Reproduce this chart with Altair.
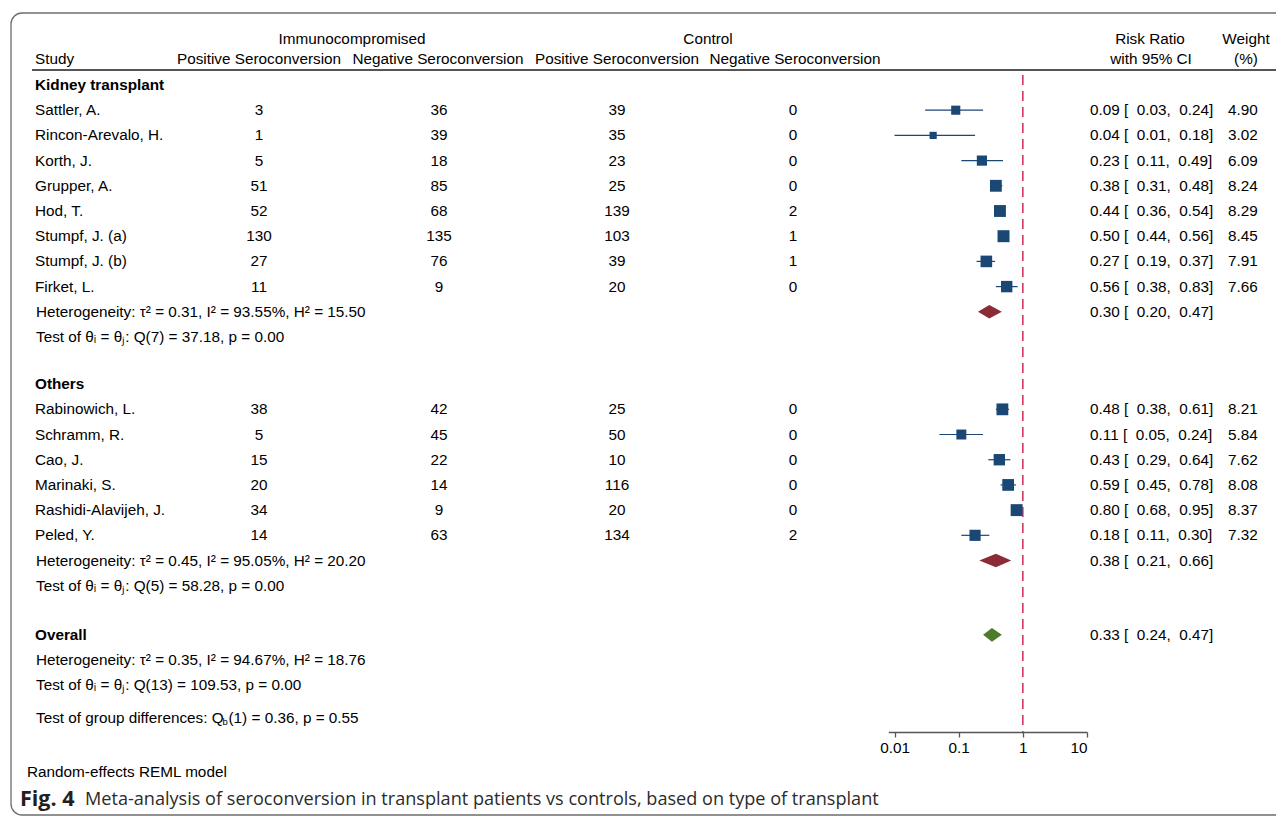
import altair as alt
import pandas as pd

# ---------------- data ----------------
group1_name = "Kidney transplant"
group1_studies = ["Sattler, A.", "Rincon-Arevalo, H.", "Korth, J.", "Grupper, A.",
                  "Hod, T.", "Stumpf, J. (a)", "Stumpf, J. (b)", "Firket, L."]
group1_imm_pos = [3, 1, 5, 51, 52, 130, 27, 11]
group1_imm_neg = [36, 39, 18, 85, 68, 135, 76, 9]
group1_ctl_pos = [39, 35, 23, 25, 139, 103, 39, 20]
group1_ctl_neg = [0, 0, 0, 0, 2, 1, 1, 0]
group1_rr = [0.09, 0.04, 0.23, 0.38, 0.44, 0.50, 0.27, 0.56]
group1_lo = [0.03, 0.01, 0.11, 0.31, 0.36, 0.44, 0.19, 0.38]
group1_hi = [0.24, 0.18, 0.49, 0.48, 0.54, 0.56, 0.37, 0.83]
group1_weight = [4.90, 3.02, 6.09, 8.24, 8.29, 8.45, 7.91, 7.66]
group1_pooled = [0.30, 0.20, 0.47]
group1_het = "Heterogeneity: τ² = 0.31, I² = 93.55%, H² = 15.50"
group1_test = "Test of θᵢ = θⱼ: Q(7) = 37.18, p = 0.00"

group2_name = "Others"
group2_studies = ["Rabinowich, L.", "Schramm, R.", "Cao, J.", "Marinaki, S.",
                  "Rashidi-Alavijeh, J.", "Peled, Y."]
group2_imm_pos = [38, 5, 15, 20, 34, 14]
group2_imm_neg = [42, 45, 22, 14, 9, 63]
group2_ctl_pos = [25, 50, 10, 116, 20, 134]
group2_ctl_neg = [0, 0, 0, 0, 0, 2]
group2_rr = [0.48, 0.11, 0.43, 0.59, 0.80, 0.18]
group2_lo = [0.38, 0.05, 0.29, 0.45, 0.68, 0.11]
group2_hi = [0.61, 0.24, 0.64, 0.78, 0.95, 0.30]
group2_weight = [8.21, 5.84, 7.62, 8.08, 8.37, 7.32]
group2_pooled = [0.38, 0.21, 0.66]
group2_het = "Heterogeneity: τ² = 0.45, I² = 95.05%, H² = 20.20"
group2_test = "Test of θᵢ = θⱼ: Q(5) = 58.28, p = 0.00"

overall_name = "Overall"
overall_pooled = [0.33, 0.24, 0.47]
overall_het = "Heterogeneity: τ² = 0.35, I² = 94.67%, H² = 18.76"
overall_test = "Test of θᵢ = θⱼ: Q(13) = 109.53, p = 0.00"
group_diff = ["Test of group differences: Q", "b", "(1) = 0.36, p = 0.55"]

axis_ticks = [0.01, 0.1, 1, 10]
model_note = "Random-effects REML model"
caption_bold = "Fig. 4"
caption_text = "Meta-analysis of seroconversion in transplant patients vs controls, based on type of transplant"

# ---------------- layout helpers ----------------
FONT = "Liberation Sans"
FS = 15.3
NAVY = "#1b4775"
ROW0 = 77
STEP = 25.2


def fmt_ci(e, l, h):
    nb = "\u00a0"
    return f"{e:.2f}{nb}[{nb}{nb}{l:.2f},{nb}{nb}{h:.2f}]"


study_rows, pooled_rows, label_rows = [], [], []
r = 0.0


def add_group(name, studies, ip, ineg, cp, cneg, rr, lo, hi, wt, pooled, het, test, gid):
    global r
    label_rows.append({"row": r, "text": name, "bold": True})
    r += 1
    for i, s in enumerate(studies):
        study_rows.append({"row": r, "study": s, "ip": str(ip[i]), "ineg": str(ineg[i]),
                           "cp": str(cp[i]), "cneg": str(cneg[i]), "rr": rr[i], "lo": lo[i],
                           "hi": hi[i], "w": wt[i], "ci": fmt_ci(rr[i], lo[i], hi[i]),
                           "wl": f"{wt[i]:.2f}"})
        r += 1
    pooled_rows.append({"row": r, "id": gid, "grp": "sub", "est": pooled[0], "lo": pooled[1],
                        "hi": pooled[2], "ci": fmt_ci(*pooled)})
    label_rows.append({"row": r, "text": het, "bold": False})
    r += 1
    label_rows.append({"row": r, "text": test, "bold": False})


add_group(group1_name, group1_studies, group1_imm_pos, group1_imm_neg, group1_ctl_pos,
          group1_ctl_neg, group1_rr, group1_lo, group1_hi, group1_weight, group1_pooled,
          group1_het, group1_test, "g1")
r += 1.87
add_group(group2_name, group2_studies, group2_imm_pos, group2_imm_neg, group2_ctl_pos,
          group2_ctl_neg, group2_rr, group2_lo, group2_hi, group2_weight, group2_pooled,
          group2_het, group2_test, "g2")
r += 1.95
label_rows.append({"row": r, "text": overall_name, "bold": True})
pooled_rows.append({"row": r, "id": "ov", "grp": "overall", "est": overall_pooled[0],
                    "lo": overall_pooled[1], "hi": overall_pooled[2], "ci": fmt_ci(*overall_pooled)})
r += 1
label_rows.append({"row": r, "text": overall_het, "bold": False})
r += 1
label_rows.append({"row": r, "text": overall_test, "bold": False})
r += 1.3
diff_row = r

studies = pd.DataFrame(study_rows)
pooled = pd.DataFrame(pooled_rows)
labels = pd.DataFrame(label_rows)

# diamond polygons (area with zero thickness at the ends)
HALF = 0.27
dia = []
for p in pooled_rows:
    dia.append({"id": p["id"], "grp": p["grp"], "x": p["lo"], "y": p["row"], "y2": p["row"]})
    dia.append({"id": p["id"], "grp": p["grp"], "x": p["est"], "y": p["row"] - HALF, "y2": p["row"] + HALF})
    dia.append({"id": p["id"], "grp": p["grp"], "x": p["hi"], "y": p["row"], "y2": p["row"]})
diamonds = pd.DataFrame(dia)

xscale = alt.Scale(type="log", domain=[0.008, 10], range=[880.3, 1079])
yscale = alt.Scale(domain=[0, 25], range=[ROW0, ROW0 + 25 * STEP])
Y = lambda f: alt.Y(f"{f}:Q", scale=yscale, axis=None)

one = alt.Data(values=[{"k": 1}])

# frame
frame = alt.Chart(one).mark_rect(filled=False, stroke="#6e6e6e", strokeWidth=1.3,
                                 cornerRadius=11).encode(
    x=alt.value(3), x2=alt.value(1320), y=alt.value(5), y2=alt.value(807))

header_rule = alt.Chart(one).mark_rule(color="#555555", strokeWidth=2.2).encode(
    x=alt.value(24), x2=alt.value(1269), y=alt.value(62))

# headers
hdr = pd.DataFrame([
    {"t": "Immunocompromised", "x": 344, "y": 31, "a": "center"},
    {"t": "Control", "x": 700, "y": 31, "a": "center"},
    {"t": "Risk Ratio", "x": 1142, "y": 31, "a": "center"},
    {"t": "Weight", "x": 1238, "y": 31, "a": "center"},
    {"t": "Study", "x": 27, "y": 51, "a": "left"},
    {"t": "Positive Seroconversion", "x": 251, "y": 51, "a": "center"},
    {"t": "Negative Seroconversion", "x": 430, "y": 51, "a": "center"},
    {"t": "Positive Seroconversion", "x": 609, "y": 51, "a": "center"},
    {"t": "Negative Seroconversion", "x": 787, "y": 51, "a": "center"},
    {"t": "with 95% CI", "x": 1143, "y": 51, "a": "center"},
    {"t": "(%)", "x": 1238, "y": 51, "a": "center"},
])
hdr_layers = []
for a in ["left", "center"]:
    sub = hdr[hdr.a == a]
    hdr_layers.append(alt.Chart(sub).mark_text(align=a, baseline="middle", font=FONT,
                                               fontSize=FS, color="black").encode(
        x=alt.X("x:Q", scale=None), y=alt.Y("y:Q", scale=None), text="t:N"))

# reference line at RR = 1
refline = alt.Chart(pd.DataFrame({"ref": [1]})).mark_rule(
    color="#d23a5e", strokeWidth=1.6, strokeDash=[10, 6]).encode(
    x=alt.X("ref:Q", scale=xscale,
            axis=alt.Axis(values=axis_ticks, format="~g", title=None, grid=False,
                          domainColor="#555555", tickColor="#555555", tickSize=5,
                          labelFont=FONT, labelFontSize=FS, labelColor="black",
                          labelPadding=3, domainWidth=1.3, tickWidth=1.3)),
    y=alt.value(67), y2=alt.value(724))

ci = alt.Chart(studies).mark_rule(color=NAVY, strokeWidth=1.2).encode(
    x=alt.X("lo:Q", scale=xscale), x2="hi:Q", y=Y("row"))

sq = alt.Chart(studies).transform_calculate(sz="datum.w * 17").mark_square(
    color=NAVY, opacity=1, filled=True).encode(
    x=alt.X("rr:Q", scale=xscale), y=Y("row"), size=alt.Size("sz:Q", scale=None, legend=None))

dia_chart = alt.Chart(diamonds).mark_area(opacity=1, interpolate="linear").encode(
    x=alt.X("x:Q", scale=xscale), y=Y("y"), y2="y2:Q",
    color=alt.Color("grp:N", scale=alt.Scale(domain=["sub", "overall"],
                                             range=["#8b2b35", "#4f7a2a"]), legend=None),
    detail="id:N")


def col_text(df, field, x, align="center", **kw):
    return alt.Chart(df).mark_text(align=align, baseline="middle", font=FONT, fontSize=FS,
                                   color="black", **kw).encode(
        x=alt.value(x), y=Y("row"), text=f"{field}:N")


texts = [
    col_text(studies, "study", 27, "left"),
    col_text(studies, "ip", 251),
    col_text(studies, "ineg", 431),
    col_text(studies, "cp", 609),
    col_text(studies, "cneg", 785),
    col_text(studies, "ci", 1082, "left"),
    col_text(studies, "wl", 1235),
    col_text(pooled, "ci", 1082, "left"),
    col_text(labels[labels.bold], "text", 27, "left", fontWeight="bold"),
    col_text(labels[~labels.bold], "text", 28, "left"),
]

diff_df = pd.DataFrame({"row": [diff_row]})
diff_parts = [
    alt.Chart(diff_df).mark_text(align="left", baseline="middle", font=FONT, fontSize=FS,
                                 color="black", text=group_diff[0]).encode(x=alt.value(28), y=Y("row")),
    alt.Chart(diff_df).mark_text(align="left", baseline="middle", font=FONT, fontSize=9.5,
                                 color="black", dy=4, text=group_diff[1]).encode(x=alt.value(214.5), y=Y("row")),
    alt.Chart(diff_df).mark_text(align="left", baseline="middle", font=FONT, fontSize=FS,
                                 color="black", text=group_diff[2]).encode(x=alt.value(220.5), y=Y("row")),
]

note = alt.Chart(one).mark_text(align="left", baseline="middle", font=FONT, fontSize=FS,
                                color="black", text=model_note).encode(x=alt.value(19), y=alt.value(764))
cap1 = alt.Chart(one).mark_text(align="left", baseline="middle", font="Open Sans", fontSize=21.5,
                                fontWeight="bold", color="#231f20", text=caption_bold).encode(
    x=alt.value(12), y=alt.value(792))
cap2 = alt.Chart(one).mark_text(align="left", baseline="middle", font="Open Sans", fontSize=18.1,
                                color="#2b2b2b", text=caption_text).encode(
    x=alt.value(77), y=alt.value(792))

chart = alt.layer(frame, header_rule, *hdr_layers, refline, ci, sq, dia_chart, *texts,
                  *diff_parts, note, cap1, cap2).properties(
    width=1268, height=724,
    autosize=alt.AutoSizeParams(type="none"),
    padding={"left": 0, "top": 0, "right": 0, "bottom": 88},
).configure_view(stroke=None)

chart.save("out.html", embed_options={"renderer": "svg", "actions": False})
